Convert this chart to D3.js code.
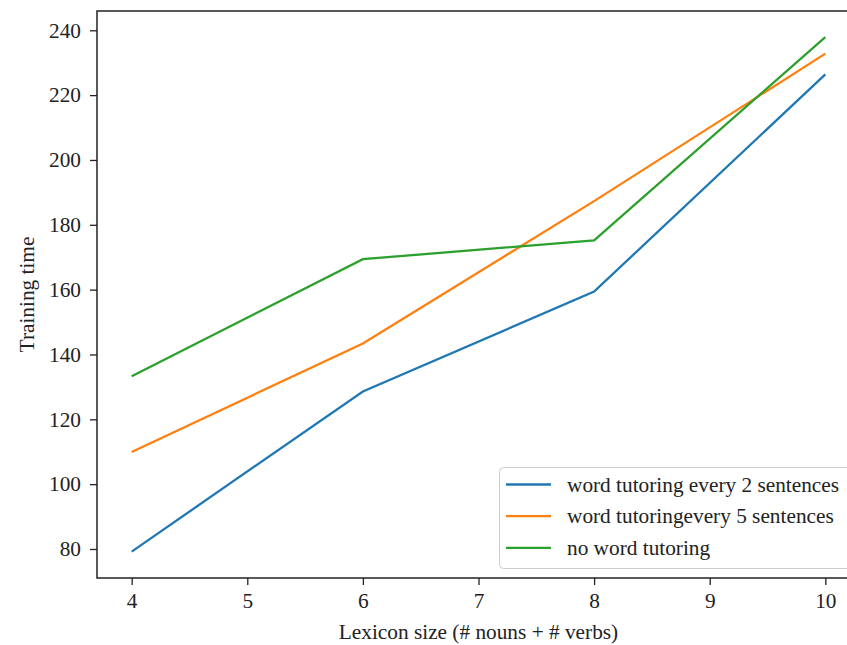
<!DOCTYPE html>
<html>
<head>
<meta charset="utf-8">
<script src="https://cdn.jsdelivr.net/npm/d3@7"></script>
<style>
  body { margin: 0; background: #fff; }
</style>
</head>
<body>
<div id="chart"></div>
<script>
const lexiconSizes = [4, 6, 8, 10];
const every2 = [79.2, 128.6, 159.4, 226.4];
const every5 = [109.9, 143.4, 187.3, 232.8];
const noTutoring = [133.3, 169.4, 175.2, 237.9];
const seriesNames = ["word tutoring every 2 sentences", "word tutoringevery 5 sentences", "no word tutoring"];
const seriesColors = ["#1f77b4", "#ff7f0e", "#2ca02c"];
const xTicks = [4, 5, 6, 7, 8, 9, 10];
const yTicks = [80, 100, 120, 140, 160, 180, 200, 220, 240];

const fullWidth = 847, fullHeight = 645;
const plotLeft = 97, plotTop = 11, plotRight = 860, plotBottom = 578;
const serif = '"Liberation Serif", "Times New Roman", Times, "DejaVu Serif", serif';
const fontSize = "21.3px";

const svg = d3.select("#chart").append("svg")
  .attr("width", fullWidth)
  .attr("height", fullHeight)
  .attr("font-family", serif);

const x = d3.scaleLinear().domain([3.7, 10.3]).range([plotLeft, plotRight]);
const y = d3.scaleLinear().domain([71.05, 245.95]).range([plotBottom, plotTop]);

const series = [every2, every5, noTutoring].map((vals, i) => ({
  name: seriesNames[i],
  color: seriesColors[i],
  points: lexiconSizes.map((s, j) => [s, vals[j]])
}));

const line = d3.line().x(d => x(d[0])).y(d => y(d[1]));

svg.selectAll("path.series")
  .data(series)
  .enter()
  .append("path")
  .attr("class", "series")
  .attr("d", d => line(d.points))
  .attr("fill", "none")
  .attr("stroke", d => d.color)
  .attr("stroke-width", 2.3);

// axes
const xAxis = svg.append("g")
  .attr("transform", `translate(0,${plotBottom})`)
  .call(d3.axisBottom(x).tickValues(xTicks).tickFormat(d3.format("d"))
    .tickSize(7).tickPadding(8).tickSizeOuter(0));
const yAxis = svg.append("g")
  .attr("transform", `translate(${plotLeft},0)`)
  .call(d3.axisLeft(y).tickValues(yTicks).tickFormat(d3.format("d"))
    .tickSize(7).tickPadding(9).tickSizeOuter(0));

[xAxis, yAxis].forEach(a => {
  a.attr("font-family", serif).attr("font-size", fontSize);
  a.selectAll("text").attr("fill", "#222");
  a.selectAll("line").attr("stroke", "#222").attr("stroke-width", 1.3);
  a.select(".domain").remove();
});

// frame
svg.append("rect")
  .attr("x", plotLeft).attr("y", plotTop)
  .attr("width", plotRight - plotLeft).attr("height", plotBottom - plotTop)
  .attr("fill", "none")
  .attr("stroke", "#222")
  .attr("stroke-width", 1.5);

// labels
svg.append("text")
  .attr("x", (plotLeft + plotRight) / 2)
  .attr("y", 639)
  .attr("text-anchor", "middle")
  .attr("font-size", fontSize)
  .attr("fill", "#222")
  .text("Lexicon size (# nouns + # verbs)");

svg.append("text")
  .attr("transform", "rotate(-90)")
  .attr("x", -(plotTop + plotBottom) / 2)
  .attr("y", 34)
  .attr("text-anchor", "middle")
  .attr("font-size", fontSize)
  .attr("fill", "#222")
  .text("Training time");

// legend
const legend = svg.append("g");
legend.append("rect")
  .attr("x", 499.5).attr("y", 467.5)
  .attr("width", 356).attr("height", 101)
  .attr("rx", 4)
  .attr("fill", "#fff")
  .attr("fill-opacity", 0.85)
  .attr("stroke", "#ccc");

series.forEach((s, i) => {
  const ly = 484.5 + i * 31.7;
  legend.append("line")
    .attr("x1", 506).attr("x2", 551)
    .attr("y1", ly).attr("y2", ly)
    .attr("stroke", s.color)
    .attr("stroke-width", 2.3);
  legend.append("text")
    .attr("x", 567).attr("y", ly + 7)
    .attr("font-size", fontSize)
    .attr("fill", "#222")
    .text(s.name);
});
</script>
</body>
</html>
